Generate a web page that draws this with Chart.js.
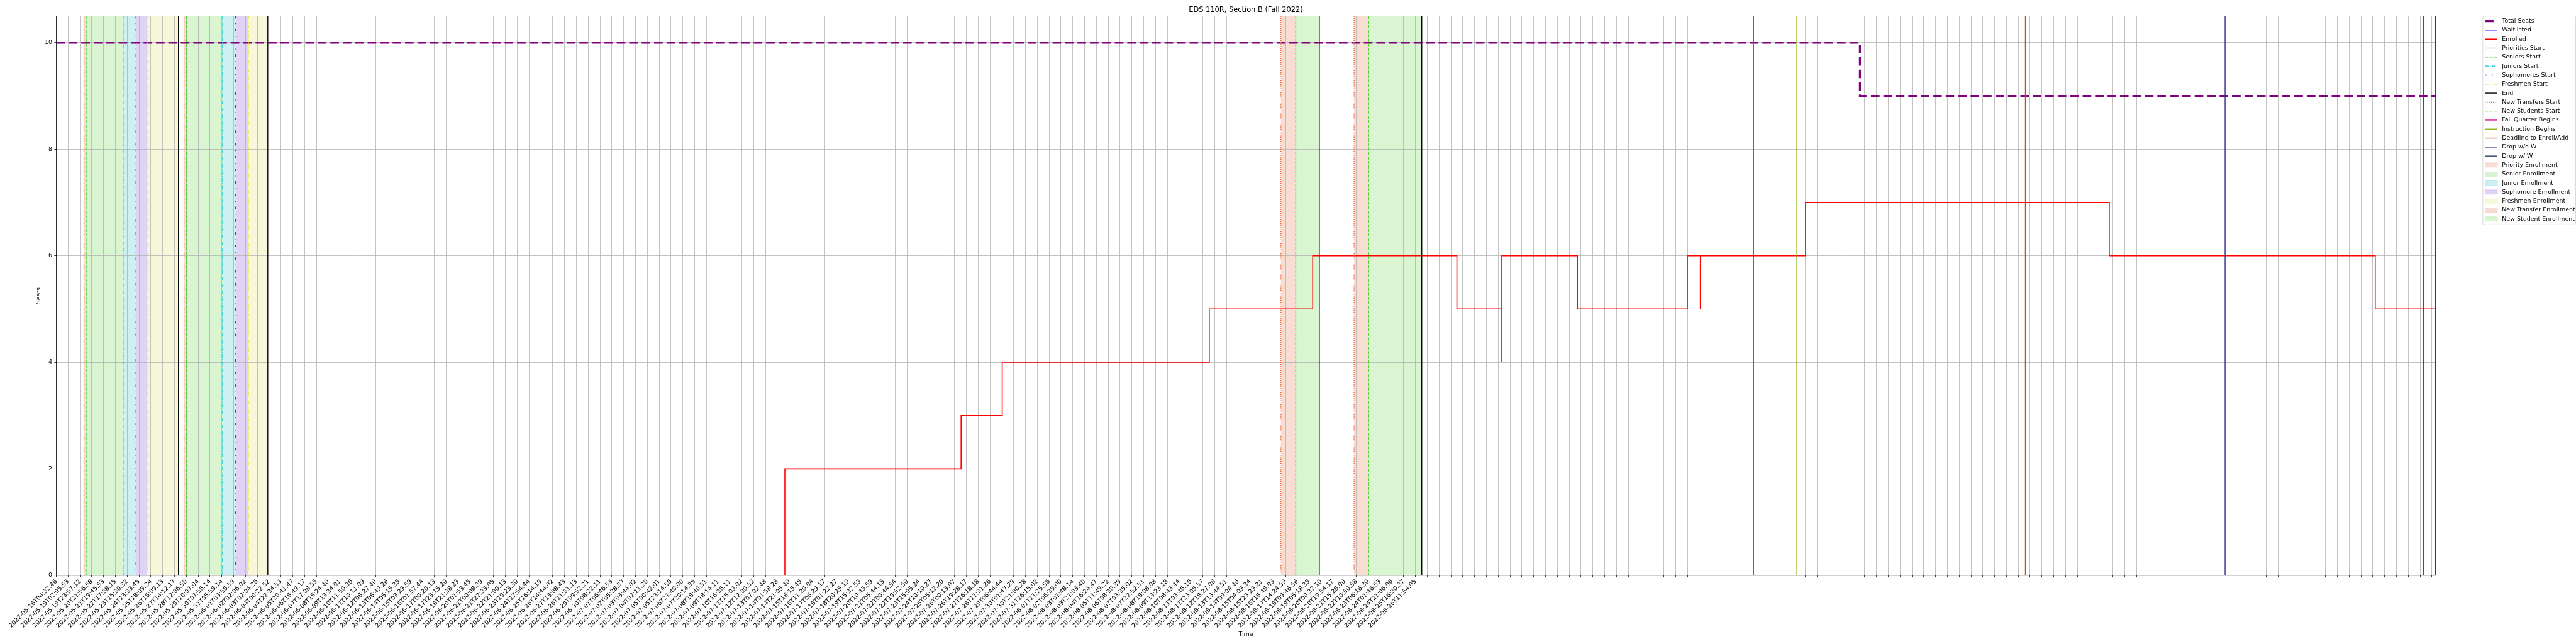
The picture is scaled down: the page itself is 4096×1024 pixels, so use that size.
<!DOCTYPE html>
<html>
<head>
<meta charset="utf-8">
<title>EDS 110R, Section B (Fall 2022)</title>
<script src="https://cdn.jsdelivr.net/npm/chart.js@4.4.1/dist/chart.umd.min.js"></script>
<style>
  html, body { margin: 0; padding: 0; background: #fff; }
  #wrap { width: 4096px; height: 1024px; }
</style>
</head>
<body>
<div id="wrap"><canvas id="seatsChart" width="4096" height="1024"></canvas></div>
<script>
// x positions are in tick units: tick i sits at x = i
const tickLabels = [
  '2022-05-18T04:32:46', '2022-05-19T02:05:53', '2022-05-19T23:57:12', '2022-05-20T21:56:58',
  '2022-05-21T19:45:53', '2022-05-22T17:38:15', '2022-05-23T15:30:32', '2022-05-24T13:33:45',
  '2022-05-25T18:09:24', '2022-05-26T16:09:13', '2022-05-27T14:12:17', '2022-05-28T12:06:50',
  '2022-05-29T10:07:04', '2022-05-30T07:56:14', '2022-05-31T05:58:14', '2022-06-01T03:56:59',
  '2022-06-02T02:06:02', '2022-06-03T02:04:26', '2022-06-04T00:22:52', '2022-06-04T22:34:53',
  '2022-06-05T20:41:47', '2022-06-06T18:49:17', '2022-06-07T17:08:55', '2022-06-08T15:24:40',
  '2022-06-09T13:34:01', '2022-06-10T11:50:36', '2022-06-11T10:11:09', '2022-06-12T08:27:40',
  '2022-06-13T06:49:26', '2022-06-14T05:15:35', '2022-06-15T03:29:59', '2022-06-16T01:57:44',
  '2022-06-17T00:20:13', '2022-06-17T23:15:20', '2022-06-18T21:38:23', '2022-06-20T01:53:45',
  '2022-06-21T00:08:39', '2022-06-21T22:33:05', '2022-06-22T21:00:13', '2022-06-23T19:23:30',
  '2022-06-24T17:54:44', '2022-06-25T16:14:19', '2022-06-26T14:44:02', '2022-06-27T13:08:43',
  '2022-06-28T11:31:13', '2022-06-29T09:52:21', '2022-06-30T08:22:11', '2022-07-01T06:46:53',
  '2022-07-02T05:28:37', '2022-07-03T03:44:02', '2022-07-04T02:11:20', '2022-07-05T00:42:01',
  '2022-07-05T23:14:56', '2022-07-06T21:40:00', '2022-07-07T20:14:35', '2022-07-08T18:40:51',
  '2022-07-09T18:14:11', '2022-07-10T16:36:11', '2022-07-11T15:03:02', '2022-07-12T12:00:52',
  '2022-07-13T07:02:48', '2022-07-14T01:58:28', '2022-07-14T21:05:40', '2022-07-15T16:15:45',
  '2022-07-16T11:20:04', '2022-07-17T06:29:17', '2022-07-18T01:22:27', '2022-07-18T20:25:19',
  '2022-07-19T15:32:53', '2022-07-20T10:43:59', '2022-07-21T05:44:15', '2022-07-22T00:44:54',
  '2022-07-22T19:52:50', '2022-07-23T15:05:24', '2022-07-24T10:10:27', '2022-07-25T05:12:20',
  '2022-07-26T00:13:07', '2022-07-26T19:28:17', '2022-07-27T16:18:18', '2022-07-28T11:31:26',
  '2022-07-29T06:44:44', '2022-07-30T01:47:29', '2022-07-30T21:00:28', '2022-07-31T16:15:02',
  '2022-08-01T11:25:56', '2022-08-02T06:39:00', '2022-08-03T01:48:14', '2022-08-03T21:03:40',
  '2022-08-04T16:24:47', '2022-08-05T11:49:22', '2022-08-06T08:30:39', '2022-08-07T03:35:02',
  '2022-08-07T22:52:51', '2022-08-08T18:08:08', '2022-08-09T13:23:18', '2022-08-10T08:43:44',
  '2022-08-11T03:46:16', '2022-08-11T23:05:57', '2022-08-12T18:27:08', '2022-08-13T13:44:51',
  '2022-08-14T09:04:46', '2022-08-15T04:09:34', '2022-08-15T23:29:21', '2022-08-16T18:48:03',
  '2022-08-17T14:24:59', '2022-08-18T09:46:56', '2022-08-19T05:18:35', '2022-08-20T00:32:10',
  '2022-08-20T19:54:17', '2022-08-21T15:28:00', '2022-08-22T10:50:58', '2022-08-23T06:16:30',
  '2022-08-24T01:46:53', '2022-08-24T21:06:06', '2022-08-25T16:30:37', '2022-08-26T11:54:05'
];
// the rest could not be read yet
while (tickLabels.length < 202) tickLabels.push('');

const xMax = 201.29;
const yMax = 10.5;
const yTicks = [0, 2, 4, 6, 8, 10];

// step series: value holds from each x until the next one
const seatsX = [0, 152.6, xMax];
const seatsY = [10, 9, 9];
const waitlistX = [0, xMax];
const waitlistY = [0, 0];
const enrolledX = [0, 61.64, 76.55, 80.03, 97.55, 106.3, 118.5, 122.3, 122.3, 128.7, 138.0, 139.1, 139.1, 148.0, 173.7, 196.2, xMax];
const enrolledY = [0, 2, 3, 4, 5, 6, 5, 4, 6, 5, 6, 5, 6, 7, 6, 5, 5];

// vertical event lines
const lineLabels = ['Priorities Start', 'Seniors Start', 'Juniors Start', 'Sophomores Start', 'Freshmen Start', 'End',
  'New Transfers Start', 'New Students Start', 'Fall Quarter Begins', 'Instruction Begins', 'Deadline to Enroll/Add',
  'Drop w/o W', 'Drop w/ W'];
const lineAt = [[2.34, 10.80], [2.52, 10.99], [5.65, 14.07], [6.74, 15.17], [7.68, 16.25], [10.33, 17.89, 106.86, 115.53],
  [103.61, 109.80], [104.87, 111.03], [143.6], [147.2], [166.6], [183.5], [200.3]];

// shaded enrollment windows
const spanLabels = ['Priority Enrollment', 'Senior Enrollment', 'Junior Enrollment', 'Sophomore Enrollment',
  'Freshmen Enrollment', 'New Transfer Enrollment', 'New Student Enrollment'];
const spanFrom = [[2.34, 10.80], [2.52, 10.99], [5.65, 14.07], [6.74, 15.17], [7.68, 16.25], [103.61, 109.80], [104.87, 111.03]];
const spanTo = [[2.52, 10.99], [5.65, 14.07], [6.74, 15.17], [7.68, 16.25], [10.33, 17.89], [104.87, 111.03], [106.86, 115.53]];

// styles
const lineColors = ['#f0602c', '#40cc18', '#00c8d6', '#6a22d8', '#e2e222', '#000000',
  '#f0602c', '#40cc18', '#e0149c', '#8db414', '#d2441e', '#2c2c8c', '#2d3c5c'];
const lineDashes = [[1.2, 2], [5, 2.2], [6, 2, 1.2, 2], [4, 7.5, 1.2, 7.5], [5.5, 2, 1.2, 2, 1.2, 2], [],
  [1.2, 2], [5, 2.2], [], [], [], [], []];
const spanColors = ['#f8ddd3', '#d9f5d2', '#cdf0f2', '#e0d3f5', '#f7f8da', '#f8ddd3', '#d9f5d2'];
const spanEdges = ['#f3c9b8', '#bfeab4', '#a9e6ea', '#cdb8ef', '#eef0b4', '#f3c9b8', '#bfeab4'];

const baseFont = { family: 'DejaVu Sans', size: 9.5 };

function steps(xs, ys) {
  return xs.map((x, i) => ({ x: x, y: ys[i] }));
}

const eventLayer = {
  id: 'eventLayer',
  beforeDraw(chart) {
    const { ctx, chartArea: a, scales: { x } } = chart;
    ctx.save();
    ctx.beginPath();
    ctx.rect(a.left, a.top, a.right - a.left, a.bottom - a.top);
    ctx.clip();
    spanLabels.forEach((name, k) => {
      ctx.fillStyle = spanColors[k];
      spanFrom[k].forEach((s, j) => {
        const x0 = x.getPixelForValue(s);
        const x1 = x.getPixelForValue(spanTo[k][j]);
        ctx.fillRect(x0, a.top, x1 - x0, a.bottom - a.top);
      });
    });
    ctx.restore();
  },
  afterDatasetsDraw(chart) {
    const { ctx, chartArea: a, scales: { x } } = chart;
    ctx.save();
    ctx.beginPath();
    ctx.rect(a.left, a.top, a.right - a.left, a.bottom - a.top);
    ctx.clip();
    ctx.lineWidth = 1.4;
    lineLabels.forEach((name, k) => {
      ctx.strokeStyle = lineColors[k];
      ctx.setLineDash(lineDashes[k]);
      lineAt[k].forEach(v => {
        const px = x.getPixelForValue(v);
        ctx.beginPath();
        ctx.moveTo(px, a.top);
        ctx.lineTo(px, a.bottom);
        ctx.stroke();
      });
    });
    ctx.restore();

    // axes frame
    ctx.save();
    ctx.strokeStyle = '#000';
    ctx.lineWidth = 0.76;
    ctx.strokeRect(a.left, a.top, a.right - a.left, a.bottom - a.top);
    ctx.restore();
  },
  afterDraw(chart) {
    const { ctx } = chart;
    const left = 3947.8, top = 25.5, right = 4095.5, bottom = 357.3;
    ctx.save();
    ctx.fillStyle = 'rgba(255,255,255,0.8)';
    ctx.strokeStyle = '#cccccc';
    ctx.lineWidth = 0.7;
    ctx.beginPath();
    ctx.roundRect(left, top, right - left, bottom - top, 2);
    ctx.fill();
    ctx.stroke();

    const items = [];
    chart.data.datasets.forEach(ds => items.push({ label: ds.label, kind: 'line', color: ds.borderColor, width: ds.borderWidth, dash: ds.borderDash || [] }));
    lineLabels.forEach((l, k) => items.push({ label: l, kind: 'line', color: lineColors[k], width: 1.4, dash: lineDashes[k] }));
    spanLabels.forEach((l, k) => items.push({ label: l, kind: 'patch', color: spanColors[k], edge: spanEdges[k] }));

    ctx.font = '9.5px "DejaVu Sans"';
    ctx.textBaseline = 'middle';
    items.forEach((it, i) => {
      const cy = 33.66 + 14.3 * i;
      if (it.kind === 'line') {
        ctx.strokeStyle = it.color;
        ctx.lineWidth = it.width;
        ctx.setLineDash(it.dash);
        ctx.beginPath();
        ctx.moveTo(3951.2, cy);
        ctx.lineTo(3971.0, cy);
        ctx.stroke();
      } else {
        ctx.setLineDash([]);
        ctx.fillStyle = it.color;
        ctx.fillRect(3951.2, cy - 3.4, 19.8, 6.8);
        ctx.strokeStyle = it.edge;
        ctx.lineWidth = 0.7;
        ctx.strokeRect(3951.2, cy - 3.4, 19.8, 6.8);
      }
      ctx.fillStyle = '#000';
      ctx.fillText(it.label, 3978.2, cy);
    });
    ctx.restore();
  }
};

new Chart(document.getElementById('seatsChart'), {
  type: 'line',
  data: {
    datasets: [
      { label: 'Total Seats', data: steps(seatsX, seatsY), borderColor: '#800080', borderWidth: 3.2, borderDash: [13.7, 6.1], stepped: 'before', pointRadius: 0, order: 2 },
      { label: 'Waitlisted', data: steps(waitlistX, waitlistY), borderColor: '#0000ff', borderWidth: 1, stepped: 'before', pointRadius: 0, order: 1 },
      { label: 'Enrolled', data: steps(enrolledX, enrolledY), borderColor: '#ff0000', borderWidth: 1.6, stepped: 'before', pointRadius: 0, order: 0 }
    ]
  },
  options: {
    responsive: false,
    animation: false,
    devicePixelRatio: 1,
    layout: { padding: { left: 0, right: 223.6, top: 0, bottom: 0 } },
    plugins: {
      legend: { display: false },
      tooltip: { enabled: false },
      title: {
        display: true,
        text: 'EDS 110R, Section B (Fall 2022)',
        fullSize: false,
        color: '#000',
        font: { family: 'DejaVu Sans', size: 11.4, weight: 'normal' },
        padding: { top: 8.9, bottom: 2.9 }
      }
    },
    scales: {
      x: {
        type: 'linear',
        min: 0,
        max: xMax,
        afterBuildTicks: s => { s.ticks = tickLabels.map((_, i) => ({ value: i })); },
        afterFit: s => { s.height = 109.2; s.paddingLeft = 0; s.paddingRight = 0; },
        ticks: {
          autoSkip: false,
          minRotation: 45,
          maxRotation: 45,
          padding: 1,
          color: '#000',
          font: baseFont,
          callback: v => tickLabels[v] || ''
        },
        grid: { color: '#b0b0b0', lineWidth: 0.76, tickColor: '#000', tickLength: 3.3, tickWidth: 0.76 },
        border: { display: false },
        title: { display: true, text: 'Time', color: '#000', font: baseFont, padding: { top: 0, bottom: 10 } }
      },
      y: {
        type: 'linear',
        min: 0,
        max: yMax,
        afterBuildTicks: s => { s.ticks = yTicks.map(v => ({ value: v })); },
        afterFit: s => { s.width = 89.6; s.paddingTop = 0; s.paddingBottom = 0; },
        ticks: { color: '#000', font: baseFont, padding: 3.3 },
        grid: { color: '#b0b0b0', lineWidth: 0.76, tickColor: '#000', tickLength: 3.3, tickWidth: 0.76 },
        border: { display: false },
        title: { display: true, text: 'Seats', color: '#000', font: baseFont, padding: { top: 55.8, bottom: 0 } }
      }
    }
  },
  plugins: [eventLayer]
});
</script>
</body>
</html>
